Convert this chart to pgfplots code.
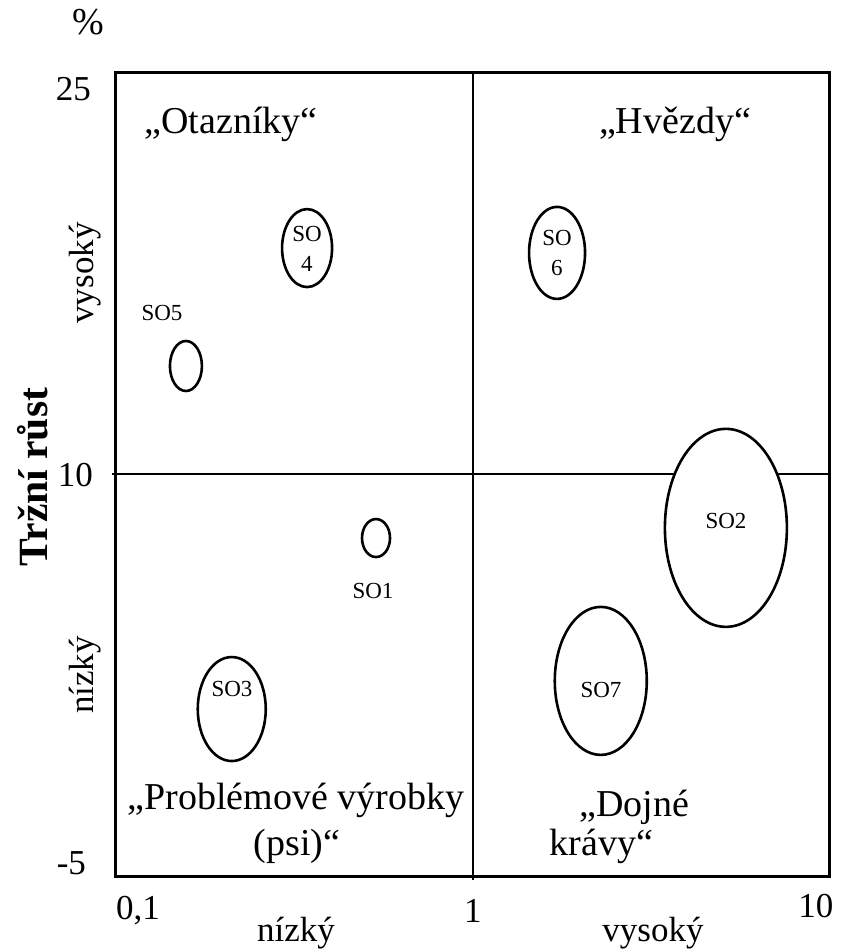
\documentclass[border=0pt]{standalone}
\usepackage{fontspec}
\setmainfont{Liberation Serif}
\usepackage{pgfplots}
\pgfplotsset{compat=1.18}
\usepackage{pgfplotstable}

\pgfdeclareplotmark{ell}{%
  \pgfpathellipse{\pgfpointorigin}{\pgfpoint{\ellrx pt}{0pt}}{\pgfpoint{0pt}{\ellry pt}}%
  \pgfusepathqstroke}

% x: relative market share, y: market growth (%), rx/ry: ellipse half-axes (pt)
\pgfplotstableread{
x     y      rx    ry
0.535 7.61   7     9.5
5.11  7.99   30.5  49.5
0.211 1.23   17    26
0.343 18.43  12.5  19.5
0.157 14.03  8     12.5
1.72  18.25  14    23
2.28  2.28   23    37
}\units

\newcommand{\tk}{\fontsize{17.5}{21}\selectfont}
\newcommand{\ql}{\fontsize{19}{23}\selectfont}
\newcommand{\so}{\fontsize{11.5}{13}\selectfont}

\begin{document}
\begin{tikzpicture}
\useasboundingbox (-58pt,-37pt) rectangle (363.5pt,438pt);
\begin{axis}[
  at={(0,0)}, anchor=south west,
  scale only axis, width=357pt, height=402pt,
  xmode=log, xmin=0.1, xmax=10, ymin=-5, ymax=25,
  clip=false,
  axis line style={line width=1.5pt, black},
  xtick={1}, ytick={10}, xticklabels={}, yticklabels={},
  xtick pos=bottom, ytick pos=left,
  tick align=outside, major tick length=2pt,
  tick style={line width=1.3pt, black},
  minor tick num=0, log ticks with fixed point,
  every node/.append style={inner sep=0pt},
]
% quadrant lines (the horizontal one is interrupted by the SO2 ellipse)
\addplot[black, line width=1.3pt] coordinates {(1,-5) (1,25)};
\addplot[black, line width=1.3pt] coordinates {(0.1,10) (3.68,10)};
\addplot[black, line width=1.3pt] coordinates {(7.10,10) (10,10)};
% business units (ellipses)
\addplot[scatter, only marks, mark=ell, black,
  mark options={draw=black, line width=1.3pt},
  scatter/@pre marker code/.code={\pgfscope},
  scatter/@post marker code/.code={\endpgfscope},
  visualization depends on={\thisrow{rx} \as \ellrx},
  visualization depends on={\thisrow{ry} \as \ellry},
] table[x=x, y=y] {\units};

% unit labels
\node[font=\so] at (rel axis cs:0.0644,0.7002) {SO5};
\node[font=\so] at (rel axis cs:0.36,0.3545) {SO1};
\node[font=\so] at (rel axis cs:0.1625,0.2326) {SO3};
\node[font=\so] at (rel axis cs:0.8543,0.4415) {SO2};
\node[font=\so] at (rel axis cs:0.6793,0.2313) {SO7};
\node[font=\so] at (rel axis cs:0.2675,0.7985) {SO};
\node[font=\so] at (rel axis cs:0.2675,0.7612) {4};
\node[font=\so] at (rel axis cs:0.6176,0.7935) {SO};
\node[font=\so] at (rel axis cs:0.6176,0.7562) {6};

% quadrant names
\node[font=\ql, anchor=base] at (rel axis cs:0.1611,0.9241) {„Otazníky“};
\node[font=\ql, anchor=base] at (rel axis cs:0.7829,0.9241) {„Hvězdy“};
\node[font=\ql, anchor=base] at (rel axis cs:0.2521,0.0821) {„Problémové výrobky};
\node[font=\ql, anchor=base] at (rel axis cs:0.2535,0.0261) {(psi)“};
\node[font=\ql, anchor=base] at (rel axis cs:0.7255,0.0745) {„Dojné};
\node[font=\ql, anchor=base] at (rel axis cs:0.680,0.0255) {krávy“};

% tick labels
\node[font=\tk, anchor=east] at (rel axis cs:-0.0252,0.9789) {25};
\node[font=\tk, anchor=east] at (rel axis cs:-0.0224,0.4988) {10};
\node[font=\tk, anchor=east] at (rel axis cs:-0.0322,0.0162) {-5};
\node[font=\tk, anchor=base] at (rel axis cs:0.0308,-0.0547) {0,1};
\node[font=\tk, anchor=base] at (rel axis cs:0.5,-0.0575) {1};
\node[font=\tk, anchor=base] at (rel axis cs:0.9804,-0.0510) {10};

% axis labels
\node[font=\tk, anchor=base] at (rel axis cs:0.2521,-0.082) {nízký};
\node[font=\tk, anchor=base] at (rel axis cs:0.7521,-0.082) {vysoký};
\node[font=\tk, anchor=base, rotate=90] at (rel axis cs:-0.0322,0.75) {vysoký};
\node[font=\tk, anchor=base, rotate=90] at (rel axis cs:-0.0322,0.25) {nízký};
\node[font=\fontsize{20.8}{24}\selectfont\bfseries, anchor=base, rotate=90] at (rel axis cs:-0.0966,0.4963) {Tržní růst};
\node[font=\ql] at (rel axis cs:-0.0392,1.0622) {\%};
\end{axis}
\end{tikzpicture}
\end{document}
